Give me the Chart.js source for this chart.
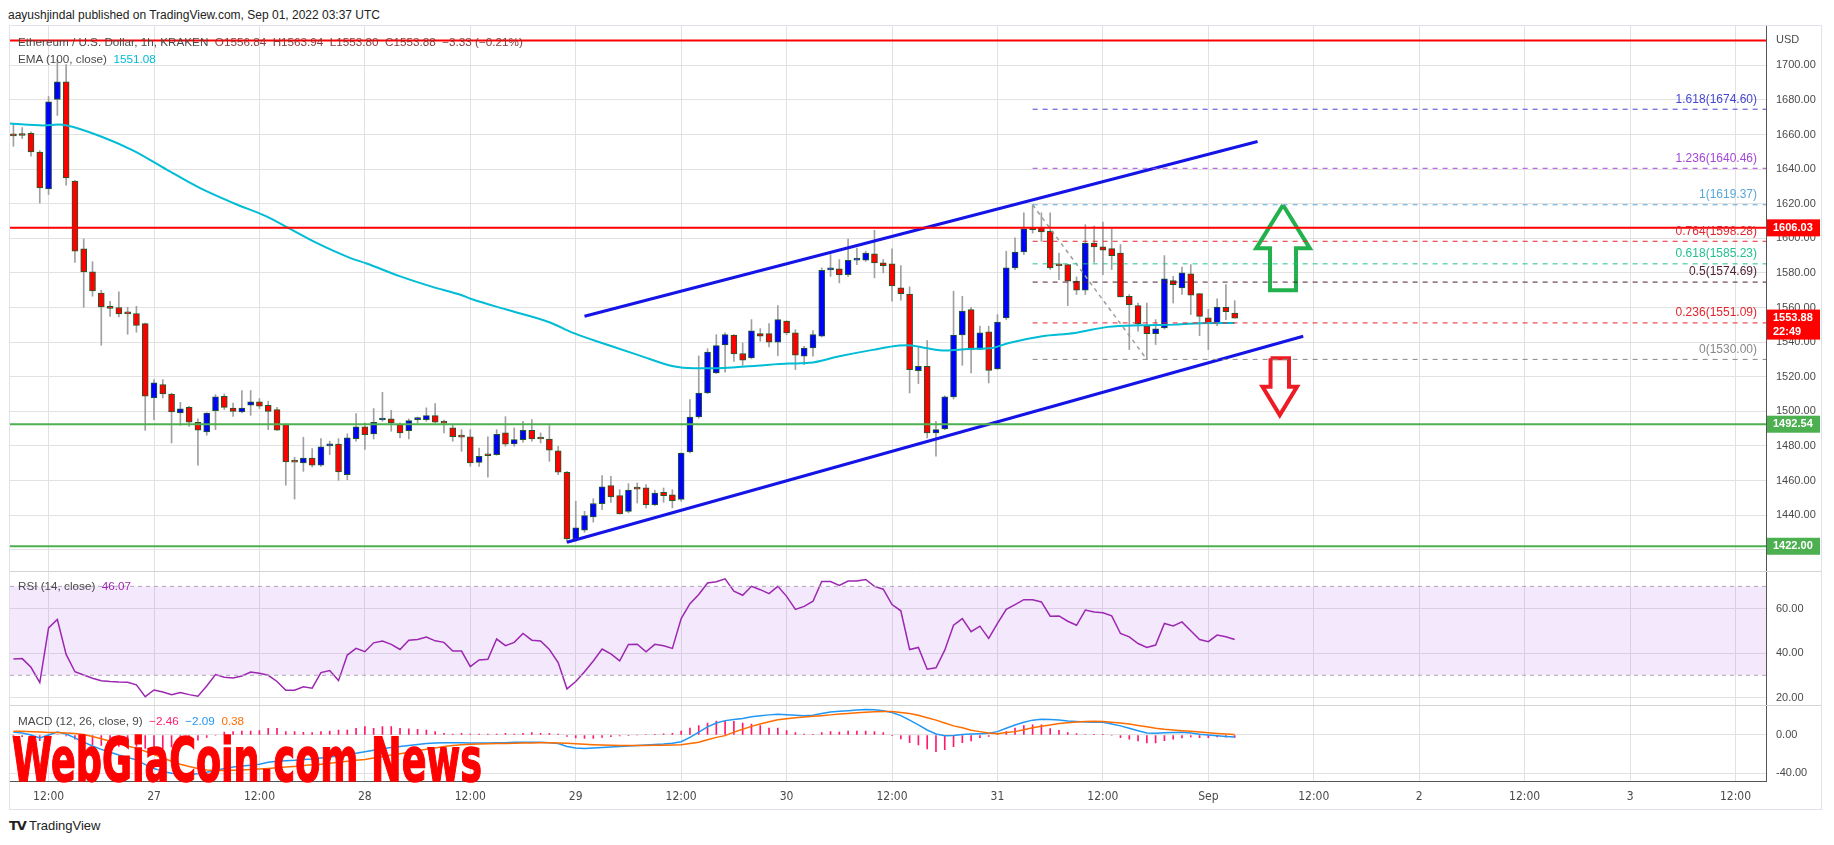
<!DOCTYPE html>
<html>
<head>
<meta charset="utf-8">
<title>ETHUSD 1h</title>
<script src="https://cdn.jsdelivr.net/npm/chart.js@4.4.1/dist/chart.umd.min.js"></script>
<style>
  html, body { margin: 0; padding: 0; background: #fff; }
  body { width: 1834px; height: 845px; position: relative; overflow: hidden;
         font-family: 'Liberation Sans', Arial, sans-serif; color: #4a4a4a; }
  #header { position: absolute; left: 8px; top: 7px; font-size: 12px; line-height: 16px; color: #222; }
  #frame { position: absolute; left: 9px; top: 25px; width: 1813px; height: 785px;
           border: 1px solid #e0e3eb; box-sizing: border-box; }
  #chartBox { position: absolute; left: 10px; top: 26px; width: 1811px; height: 783px; }
  .legend { position: absolute; left: 18px; font-size: 11.7px; line-height: 16px; color: #4a4a4a; white-space: pre; }
  #usd { position: absolute; left: 1776px; top: 32px; font-size: 11px; line-height: 14px; color: #4a4a4a; }
  #watermark { position: absolute; left: 12px; top: 730px; font-family: 'DejaVu Sans', sans-serif; font-weight: bold;
               font-size: 60px; line-height: 60px; color: #ff0000; white-space: nowrap; transform-origin: 0 0;
               -webkit-text-stroke: 1.5px #ff0000; }
  #logo { position: absolute; left: 9px; top: 818px; font-size: 13px; line-height: 16px; color: #222; }
  #logo b { font-family: 'DejaVu Sans', sans-serif; font-weight: 900; letter-spacing: -1px; margin-right: 3px; }
</style>
</head>
<body>
<div id="header">aayushjindal published on TradingView.com, Sep 01, 2022 03:37 UTC</div>
<div id="frame"></div>
<div id="chartBox"><canvas id="chart"></canvas></div>
<div class="legend" style="top:34px">Ethereum / U.S. Dollar, 1h, KRAKEN  <span style="color:#8a3a3a">O1556.84  H1563.94  L1553.80  C1553.88  −3.33 (−0.21%)</span></div>
<div class="legend" style="top:51px">EMA (100, close)  <span style="color:#00bcd4">1551.08</span></div>
<div class="legend" style="top:578px">RSI (14, close)  <span style="color:#9c27b0">46.07</span></div>
<div class="legend" style="top:713px">MACD (12, 26, close, 9)  <span style="color:#ff1a6e">−2.46</span>  <span style="color:#2196f3">−2.09</span>  <span style="color:#ff6d00">0.38</span></div>
<div id="usd">USD</div>
<div id="watermark">WebGiaCoin.com News</div>
<div id="logo"><b>TV</b>TradingView</div>

<script>
// hours are counted from Aug 27 00:00 UTC, one candle per hour
const firstHour = -16;

const opens = [
  1660.3, 1659.5, 1660.7, 1649.9, 1628.5, 1680.2, 1690.4, 1633.0, 1593.9, 1580.6, 1568.4, 1559.8, 1560.0, 1557.4, 1556.5, 1550.7,
  1507.7, 1515.4, 1510.0, 1499.0, 1502.3, 1493.7, 1488.1, 1500.4, 1508.7, 1501.9, 1499.6, 1503.5, 1505.5, 1503.5, 1501.0, 1492.3,
  1470.8, 1470.1, 1473.0, 1468.8, 1480.0, 1481.1, 1463.4, 1484.2,
  1491.0, 1487.0, 1495.0, 1495.6, 1492.3, 1488.8, 1495.2, 1495.2, 1497.5, 1494.0, 1490.4, 1485.3, 1485.2, 1470.5, 1474.5, 1475.0, 1487.5, 1481.1, 1483.6, 1489.0, 1484.1, 1484.0, 1477.1, 1464.8,
  1426.2, 1431.3, 1439.0, 1446.6, 1457.0, 1451.3, 1442.2, 1455.2, 1455.7, 1446.0, 1453.2, 1451.7, 1449.0, 1476.5, 1496.7, 1510.6, 1522.2, 1538.4, 1544.0, 1533.4, 1530.9, 1544.9, 1544.9, 1539.9,
  1552.2, 1545.3, 1531.8, 1536.6, 1543.4, 1581.7, 1582.3, 1579.0, 1587.4, 1587.3, 1591.0, 1585.8, 1585.2, 1571.3, 1567.8, 1523.5, 1526.0, 1487.5, 1489.8, 1508.3, 1544.1, 1558.8, 1535.7, 1545.9,
  1524.5, 1554.0, 1582.9, 1592.1, 1605.4, 1606.0, 1604.0, 1584.3, 1584.8, 1575.2, 1570.0, 1597.3, 1595.0, 1594.0, 1591.5, 1566.5, 1561.1, 1549.2, 1544.9, 1548.2, 1575.5, 1571.3, 1579.4, 1568.0,
  1554.0, 1550.5, 1560.1, 1556.84
];
const highs = [
  1666.0, 1664.0, 1661.5, 1650.7, 1682.0, 1703.3, 1700.4, 1633.5, 1599.6, 1586.5, 1570.0, 1563.6, 1569.0, 1560.1, 1560.7, 1551.0,
  1518.3, 1518.3, 1510.5, 1505.2, 1502.9, 1495.6, 1499.2, 1509.6, 1510.0, 1504.8, 1512.0, 1512.0, 1507.4, 1505.8, 1502.3, 1492.6,
  1473.4, 1485.0, 1478.4, 1484.2, 1482.7, 1484.2, 1487.0, 1498.7,
  1493.3, 1501.6, 1511.0, 1500.6, 1493.3, 1495.6, 1496.7, 1502.0, 1504.4, 1495.0, 1492.3, 1489.4, 1489.4, 1478.8, 1485.2, 1489.4, 1496.9, 1490.4, 1494.2, 1495.2, 1487.5, 1491.7, 1479.8, 1465.3,
  1448.0, 1442.2, 1449.5, 1462.8, 1462.4, 1454.7, 1458.2, 1458.6, 1457.6, 1454.4, 1455.7, 1454.7, 1476.0, 1506.8, 1532.0, 1536.2, 1544.3, 1545.3, 1544.3, 1539.5, 1553.0, 1547.8, 1550.7, 1561.1,
  1552.4, 1547.2, 1537.6, 1546.6, 1582.9, 1590.6, 1587.7, 1599.6, 1594.4, 1592.5, 1604.6, 1587.7, 1593.9, 1584.2, 1571.9, 1537.6, 1540.9, 1494.2, 1509.0, 1569.4, 1566.5, 1560.1, 1549.2, 1549.2,
  1555.9, 1592.5, 1600.2, 1614.7, 1619.37, 1614.7, 1614.7, 1591.5, 1585.0, 1577.7, 1607.9, 1607.0, 1609.3, 1605.4, 1596.4, 1567.5, 1562.6, 1562.6, 1553.0, 1590.0, 1578.0, 1583.4, 1584.8, 1568.0,
  1559.0, 1565.0, 1573.2, 1563.94
];
const lows = [
  1653.2, 1657.6, 1647.4, 1620.4, 1625.3, 1671.0, 1630.7, 1586.1, 1560.1, 1566.5, 1538.2, 1554.9, 1554.5, 1544.5, 1545.7, 1489.0,
  1495.2, 1507.7, 1481.7, 1491.9, 1491.3, 1468.8, 1486.2, 1489.4, 1501.0, 1497.1, 1499.0, 1497.7, 1501.6, 1489.4, 1489.0, 1457.3,
  1449.3, 1465.3, 1467.8, 1468.2, 1475.0, 1460.1, 1460.5, 1482.7,
  1477.9, 1484.0, 1494.2, 1488.5, 1484.6, 1484.0, 1493.3, 1494.2, 1493.3, 1487.5, 1482.7, 1476.9, 1468.2, 1468.2, 1461.9, 1474.6, 1479.8, 1479.8, 1482.1, 1482.7, 1481.7, 1471.1, 1463.4, 1424.3,
  1424.9, 1430.1, 1435.9, 1443.2, 1447.4, 1440.7, 1441.3, 1447.0, 1444.2, 1445.5, 1447.4, 1444.2, 1448.0, 1475.9, 1496.0, 1510.2, 1521.8, 1522.6, 1528.9, 1526.6, 1530.3, 1540.5, 1537.2, 1532.2,
  1544.3, 1524.1, 1527.0, 1531.8, 1543.0, 1578.0, 1574.2, 1578.0, 1584.8, 1586.7, 1577.1, 1580.0, 1563.6, 1564.2, 1510.6, 1516.0, 1484.6, 1474.0, 1489.4, 1507.1, 1526.6, 1522.2, 1535.7, 1516.4,
  1524.1, 1553.0, 1581.9, 1590.6, 1603.0, 1598.3, 1581.9, 1576.1, 1561.1, 1567.5, 1567.5, 1586.1, 1579.0, 1581.9, 1566.1, 1535.7, 1546.3, 1530.0, 1538.6, 1547.6, 1562.6, 1567.5, 1555.9, 1543.7,
  1535.7, 1549.5, 1553.0, 1553.80
];
const closes = [
  1659.2, 1659.4, 1649.9, 1629.1, 1678.8, 1690.4, 1634.9, 1592.5, 1580.6, 1569.6, 1560.3, 1559.5, 1556.3, 1556.3, 1549.7, 1508.7,
  1516.4, 1510.0, 1499.6, 1501.4, 1493.7, 1489.1, 1499.0, 1508.4, 1502.3, 1500.0, 1501.9, 1505.5, 1502.9, 1500.0, 1489.1, 1470.7,
  1470.6, 1473.0, 1468.8, 1479.4, 1481.2, 1465.0, 1484.6, 1491.0,
  1486.5, 1493.7, 1495.4, 1493.3, 1487.5, 1494.6, 1495.4, 1497.5, 1493.7, 1493.2, 1485.4, 1485.1, 1470.2, 1474.0, 1474.3, 1486.7, 1481.0, 1483.6, 1489.0, 1484.0, 1484.0, 1477.5, 1464.8, 1426.2,
  1432.6, 1439.7, 1446.7, 1456.3, 1450.5, 1440.7, 1454.4, 1455.0, 1446.0, 1452.8, 1451.3, 1448.4, 1475.9, 1496.7, 1510.6, 1534.3, 1538.0, 1544.3, 1533.2, 1529.5, 1546.5, 1543.4, 1539.9, 1553.0,
  1545.3, 1532.4, 1536.6, 1544.3, 1581.5, 1582.0, 1578.8, 1587.3, 1587.6, 1591.5, 1585.8, 1584.2, 1572.5, 1568.0, 1524.1, 1526.0, 1487.5, 1489.4, 1508.3, 1544.1, 1558.0, 1535.7, 1545.3, 1523.7,
  1551.5, 1582.9, 1592.1, 1605.4, 1605.0, 1603.7, 1582.9, 1584.1, 1575.2, 1570.0, 1597.3, 1595.0, 1593.1, 1590.0, 1566.1, 1561.7, 1550.7, 1544.9, 1547.6, 1576.5, 1573.2, 1580.0, 1567.1, 1554.9,
  1551.1, 1560.3, 1557.6, 1553.88
];

// EMA(100) read at points along the curve
const emaHours  = [-16.4, -12.6, -10.9, -9.9, -6.1, -2.35, 1.44, 5.2, 9.0, 12.8, 15.5, 18.5, 22.3, 24.2, 27.95, 31.7, 34.8, 36.3, 40.1, 45, 47.7, 51.5, 55.3, 59.1, 61.4, 64.8, 68.6, 72.3, 74.6, 78, 81.8, 84.8, 85.9, 87.8, 90.1, 92.7, 95.4, 97.3, 101.1, 104.8, 108.6, 112.4, 116.2, 120, 123];
const emaValues = [1666.3, 1665.2, 1665.7, 1665.2, 1659.0, 1650.7, 1639.7, 1629.1, 1620.4, 1612.7, 1605.4, 1597.3, 1588.7, 1585.4, 1578.1, 1571.9, 1567.5, 1564.6, 1558.8, 1551.5, 1545.3, 1538.6, 1532.2, 1526.0, 1524.9, 1525.1, 1526.4, 1527.6, 1528.0, 1531.8, 1535.5, 1538.0, 1538.2, 1536.6, 1535.1, 1536.0, 1536.6, 1539.5, 1543.4, 1545.3, 1548.8, 1549.7, 1550.1, 1551.1, 1551.08];

const rsiValues = [
  37.3, 37.5, 33.6, 26.7, 51.3, 55.1, 39.4, 31.6, 30.1, 28.7, 27.5, 27.2, 27.0, 26.9, 25.7, 20.4,
  23.4, 22.5, 21.3, 22.2, 21.3, 20.6, 25.2, 30.3, 29.1, 28.8, 29.7, 31.5, 30.9, 30.0, 27.2, 23.3,
  23.3, 24.8, 24.2, 31.2, 32.1, 27.6, 39.1, 42.1,
  40.6, 44.6, 45.4, 43.9, 41.6, 45.8, 46.1, 47.2, 45.5, 44.8, 40.9, 40.9, 33.9, 36.9, 37.2, 46.3, 43.3, 44.8, 48.8, 45.8, 45.4, 41.6, 35.7, 23.9,
  27.2, 31.6, 36.4, 41.8, 39.6, 36.5, 43.9, 44.0, 40.6, 43.9, 43.3, 42.1, 55.5, 62.2, 66.3, 71.5, 72.1, 73.4, 67.8, 66.0, 70.0, 68.5, 66.7, 70.0,
  65.5, 59.6, 61.0, 63.3, 72.2, 72.2, 70.4, 72.4, 72.4, 73.1, 70.0, 68.7, 61.8, 59.0, 41.6, 42.5, 32.7, 33.4, 41.3, 52.5, 55.5, 49.6, 52.1, 46.6,
  53.3, 59.7, 61.8, 64.0, 64.0, 63.0, 56.6, 56.7, 54.3, 52.5, 59.3, 58.5, 58.1, 56.7, 48.8, 47.3, 44.3, 42.5, 43.6, 53.3, 52.2, 54.0, 50.0, 46.1,
  45.1, 48.1, 47.3, 46.07
];

const macdValues = [
  3, 2, 0, -3, 0, 3, 1, -3, -7.5, -11.5, -15, -18, -21, -23.5, -26, -31,
  -35, -38, -40, -41, -41, -40.5, -39, -37, -35, -33.5, -32.5, -31.5, -30.5, -28.5, -27.5, -27,
  -26.5, -25.5, -25, -24, -23, -22, -20.5, -19,
  -17.5, -16, -14.5, -13, -12, -11, -10, -9, -8.5, -8, -8, -8, -8.5, -8.5, -8.5, -8, -8, -7.5, -7.5, -7.5, -7.5, -8, -9, -12,
  -13.5, -14, -13.5, -13, -12.5, -12, -11.5, -11, -10.5, -10, -9.5, -8.7, -7, -2.5, 3, 8.5, 12.5, 15, 16.2, 17.2, 19, 20.2, 21, 21.6,
  21.2, 20.7, 20, 20.5, 22.5, 24, 24.8, 25.4, 26, 26.5, 26.3, 25.4, 23.5, 20.2, 15.5, 10.5, 5.2, 1, -0.7, -0.5, 0.5, 1, 1.4, 1.7,
  3.5, 7, 10.5, 13.2, 15.5, 16.4, 16.2, 15.6, 14.6, 14, 13.6, 13.4, 13.2, 11.5, 9.5, 7, 4.5, 2, 1.8, 2.4, 2.6, 2.8, 2, 0.8,
  0, -0.8, -1.5, -2.09
];
const signalValues = [
  4, 3.8, 3.5, 3, 2.5, 2.5, 2, 1.5, 0.5, -1.5, -4, -6.5, -9, -11.5, -14, -17,
  -20.5, -24, -27.5, -30.5, -33, -35, -36.5, -37, -37, -36.8, -36.5, -36, -35.5, -35, -34.3, -33.5,
  -32.8, -32, -31.2, -30.5, -29.5, -28.5, -27.5, -26.5,
  -25.5, -24, -22.5, -21, -19.5, -18, -16.5, -15, -13.5, -12, -11, -10.3, -9.8, -9.5, -9.2, -9, -8.8, -8.6, -8.4, -8.3, -8.2, -8.2, -8.3, -8.7,
  -9.2, -9.7, -10.1, -10.5, -10.8, -11, -11.1, -11.1, -11, -10.8, -10.6, -10.4, -10.3, -9, -7.5, -5, -2.5, -0.7, 3, 6, 9, 11.5, 13.9, 16,
  17, 18, 18.8, 19.5, 20.2, 21, 21.8, 22.5, 23.2, 23.8, 24.2, 24.4, 24.4, 23.5, 22.4, 20.5, 18, 15.5, 12.5, 9.5, 7.5, 5, 3.5, 2,
  1.4, 2.5, 3.5, 5.5, 7.5, 9, 10.5, 12, 12.9, 13.5, 14, 14.3, 14, 13.2, 12.4, 11.4, 10, 8.5, 7, 6, 5.3, 4.5, 3.8, 3,
  2.4, 1.6, 1, 0.38
];
const histValues = [
  -1, -1.8, -3.5, -6, -2.5, 0.5, -1, -4.5, -8, -10, -11, -11.5, -12, -12, -12, -14,
  -14.5, -14, -12.5, -10.5, -8, -5.5, -2.5, -0.5, 3, 3.5, 4, 4, 4.5, 7, 7, 3.5,
  3.5, 2.8, 2.5, 3.5, 4.2, 5.2, 5.2, 7,
  8.7, 7, 8.7, 8.7, 7, 6.3, 5.9, 5.2, 3.5, 1.7, 1, 1.7, 1, 1, 1, 1, 1.7, 1, 1.7, 2.4, 1.7, 1.7, 1, -1.5,
  -3, -3.5, -3.5, -2.5, -1.7, -1, -0.4, 0, 0.5, 0.8, 1.1, 1.7, 4.2, 7.3, 9.8, 12.5, 14.6, 14.6, 14.3, 12.5, 11.5, 9.8, 7.3, 7.3,
  4.5, 2.5, 1, 0.8, 2.5, 3.5, 3.1, 4.2, 4.2, 4.2, 3.5, 2.4, -0.7, -4.2, -8, -10.5, -14.6, -17.4, -15.3, -12.2, -8, -6.3, -2.8, -1.4,
  0.7, 3.5, 7.3, 9.8, 10.5, 10.5, 6.6, 4.9, 2.4, 1.4, 0.5, 0.3, 0.3, -0.5, -2.8, -4.5, -6.3, -8.4, -8.4, -5.9, -4.5, -3.1, -2.1, -2.8,
  -2.8, -2.1, -2.4, -2.46
];

const tickHours  = [-12, 0, 12, 24, 36, 48, 60, 72, 84, 96, 108, 120, 132, 144, 156, 168, 180];
const tickLabels = ['12:00', '27', '12:00', '28', '12:00', '29', '12:00', '30', '12:00', '31', '12:00', 'Sep', '12:00', '2', '12:00', '3', '12:00'];
const priceTicks = [1420, 1440, 1460, 1480, 1500, 1520, 1540, 1560, 1580, 1600, 1620, 1640, 1660, 1680, 1700];
const rsiTicks = [20, 40, 60];
const macdTicks = [-40, 0];
const rsiBand = [70, 30];

// drawn levels
const resistanceLevels = [1714.3, 1606.03];
const supportLevels = [1492.54, 1422.00];
const fibRatios = ['1.618', '1.236', '1', '0.764', '0.618', '0.5', '0.236', '0'];
const fibPrices = [1674.60, 1640.46, 1619.37, 1598.28, 1585.23, 1574.69, 1551.09, 1530.00];
const fibStartHour = 100;
const swingHours = [100, 113];
const swingPrices = [1619.37, 1530.00];
const upperChannelHours = [49, 125.6];
const upperChannelPrices = [1554.9, 1655.9];
const lowerChannelHours = [47, 130.8];
const lowerChannelPrices = [1424.3, 1543.4];
const upArrowHours  = [128.5, 131.55, 129.98, 129.98, 127.02, 127.02, 125.45, 128.5];
const upArrowPrices = [1619.2, 1594.2, 1594.2, 1570.0, 1570.0, 1594.2, 1594.2, 1619.2];
const downArrowHours  = [127.08, 129.18, 129.18, 130.09, 128.13, 126.17, 127.08, 127.08];
const downArrowPrices = [1530.6, 1530.6, 1514.2, 1514.2, 1497.8, 1514.2, 1514.2, 1530.6];

const tagPrices = [1606.03, 1553.88, 1492.54, 1422.00];
const tagTexts  = [['1606.03'], ['1553.88', '22:49'], ['1492.54'], ['1422.00']];

// styles
const UP = '#0000ff', DOWN = '#ff0000', EDGE = '#1f5a2a', WICK = '#a0a0a0';
const GRID = '#e2e2e2', AXIS = '#555555', TEXT = '#4a4a4a';
const fibColors = ['#4646d2', '#a447d9', '#5aa7d8', '#e3262e', '#23c08f', '#4d1d33', '#e3262e', '#888888'];
const tagColors = ['#ff0000', '#ff0000', '#4caf50', '#4caf50'];
const X_MIN = -16.39, X_MAX = 183.47;

const hours = opens.map((_, i) => firstHour + i);
const pts = (xs, ys) => xs.map((x, i) => ({ x, y: ys[i] }));

function line(data, color, width, extra) {
  return Object.assign({
    type: 'line', data, borderColor: color, borderWidth: width,
    pointRadius: 0, fill: false, yAxisID: 'y', order: 1
  }, extra);
}

const datasets = [
  {
    type: 'bar', yAxisID: 'y', order: 9, grouped: false, barThickness: 1,
    data: hours.map((h, i) => ({ x: h, y: [lows[i], highs[i]] })),
    backgroundColor: WICK
  },
  {
    type: 'bar', yAxisID: 'y', order: 8, grouped: false, barThickness: 6, minBarLength: 2,
    data: hours.map((h, i) => ({ x: h, y: [opens[i], closes[i]] })),
    backgroundColor: hours.map((_, i) => closes[i] >= opens[i] ? UP : DOWN),
    borderColor: EDGE, borderWidth: 1, borderSkipped: false
  },
  line(pts(emaHours, emaValues), '#00bcd4', 2, { order: 7, cubicInterpolationMode: 'monotone' })
];

resistanceLevels.forEach(v => datasets.push(line(pts([X_MIN, X_MAX], [v, v]), '#ff0000', 2)));
supportLevels.forEach(v => datasets.push(line(pts([X_MIN, X_MAX], [v, v]), '#4caf50', 2)));
fibPrices.forEach((v, i) => datasets.push(line(pts([fibStartHour, X_MAX], [v, v]), fibColors[i], 1, { borderDash: [5, 5] })));
datasets.push(line(pts(swingHours, swingPrices), '#9e9e9e', 1.5, { borderDash: [4, 4] }));
datasets.push(line(pts(upperChannelHours, upperChannelPrices), '#1414e6', 3));
datasets.push(line(pts(lowerChannelHours, lowerChannelPrices), '#1414e6', 3));
datasets.push(line(pts(upArrowHours, upArrowPrices), '#22b14c', 4, { borderJoinStyle: 'miter' }));
datasets.push(line(pts(downArrowHours, downArrowPrices), '#ed1c24', 4, { borderJoinStyle: 'miter' }));

// RSI pane
rsiBand.forEach(v => datasets.push(line(pts([X_MIN, X_MAX], [v, v]), '#b0a8b8', 1, { yAxisID: 'yRsi', borderDash: [4, 4] })));
datasets.push(line(pts(hours, rsiValues), '#9c27b0', 1.5, { yAxisID: 'yRsi' }));

// MACD pane
datasets.push({
  type: 'bar', yAxisID: 'yMacd', order: 5, grouped: false, barThickness: 1,
  data: pts(hours, histValues), backgroundColor: '#ff1a6e'
});
datasets.push(line(pts(hours, signalValues), '#ff6d00', 1.5, { yAxisID: 'yMacd' }));
datasets.push(line(pts(hours, macdValues), '#2196f3', 1.5, { yAxisID: 'yMacd' }));

const fixRightAxis = s => { s.width = 55; s.paddingTop = 0; s.paddingBottom = 0; };
const yAxis = (min, max, ticks, weight, fmt) => ({
  position: 'right', stack: 'panes', stackWeight: weight, min, max,
  grid: { color: GRID, drawTicks: false },
  border: { color: AXIS },
  ticks: { color: TEXT, font: { size: 11 }, padding: 10, autoSkip: false, callback: fmt },
  afterBuildTicks: s => { s.ticks = ticks.map(v => ({ value: v })); },
  afterFit: fixRightAxis
});

const annotations = {
  id: 'annotations',
  beforeDatasetsDraw(chart) {
    const { ctx, chartArea: a } = chart;
    const yr = chart.scales.yRsi;
    const t = yr.getPixelForValue(rsiBand[0]), b = yr.getPixelForValue(rsiBand[1]);
    ctx.save();
    ctx.fillStyle = 'rgba(155, 47, 238, 0.11)';
    ctx.fillRect(a.left, t, a.right - a.left, b - t);
    ctx.restore();
  },
  afterDatasetsDraw(chart) {
    const { ctx, chartArea: a } = chart;
    const y = chart.scales.y;
    ctx.save();
    ctx.font = '12px "Liberation Sans", Arial, sans-serif';
    ctx.textAlign = 'right';
    ctx.textBaseline = 'middle';
    fibRatios.forEach((r, i) => {
      ctx.fillStyle = fibColors[i];
      ctx.fillText(r + '(' + fibPrices[i].toFixed(2) + ')', a.right - 9, y.getPixelForValue(fibPrices[i]) - 10);
    });
    ctx.restore();
  },
  afterDraw(chart) {
    const { ctx, chartArea: a, width } = chart;
    ctx.save();
    // pane separators
    ctx.strokeStyle = '#d4d4d4';
    ctx.lineWidth = 1;
    [chart.scales.yRsi.top, chart.scales.yMacd.top].forEach(t => {
      const yy = Math.round(t) + 0.5;
      ctx.beginPath(); ctx.moveTo(a.left, yy); ctx.lineTo(width, yy); ctx.stroke();
    });
    // price tags on the axis
    const y = chart.scales.y;
    ctx.font = 'bold 11px "Liberation Sans", Arial, sans-serif';
    ctx.textAlign = 'left';
    ctx.textBaseline = 'middle';
    tagPrices.forEach((p, i) => {
      const py = y.getPixelForValue(p);
      const lines = tagTexts[i];
      const h = lines.length === 1 ? 17 : 30;
      ctx.fillStyle = tagColors[i];
      ctx.fillRect(a.right + 1, py - 8.5, width - a.right - 2, h);
      ctx.fillStyle = '#ffffff';
      lines.forEach((txt, k) => ctx.fillText(txt, a.right + 7, py + k * 14));
    });
    ctx.restore();
  }
};

Chart.defaults.font.family = '"Liberation Sans", Arial, sans-serif';

new Chart(document.getElementById('chart'), {
  type: 'line',
  data: { datasets },
  options: {
    responsive: true,
    maintainAspectRatio: false,
    animation: false,
    events: [],
    layout: { padding: 0 },
    plugins: { legend: { display: false }, tooltip: { enabled: false } },
    scales: {
      x: {
        type: 'linear', min: X_MIN, max: X_MAX, offset: false,
        grid: { color: GRID, drawTicks: false, offset: false },
        border: { color: AXIS },
        ticks: {
          color: TEXT, padding: 8, maxRotation: 0, autoSkip: false,
          font: { size: 12, family: '"Liberation Sans Narrow", "DejaVu Sans Condensed", "Liberation Sans", sans-serif' },
          callback: v => tickLabels[tickHours.indexOf(v)]
        },
        afterBuildTicks: s => { s.ticks = tickHours.map(v => ({ value: v })); },
        afterFit: s => { s.height = 27.3; s.paddingLeft = 0; s.paddingRight = 0; }
      },
      y: yAxis(1407.7, 1722.7, priceTicks, 545, v => v === 1420 ? '' : v.toFixed(2)),
      yRsi: yAxis(16.5, 76.9, rsiTicks, 134.3, v => v.toFixed(2)),
      yMacd: yAxis(-48.8, 31.0, macdTicks, 76.4, v => v.toFixed(2))
    }
  },
  plugins: [annotations]
});

// fit the watermark to its width in the picture
const wm = document.getElementById('watermark');
wm.style.transform = 'scaleX(' + (470 / wm.getBoundingClientRect().width) + ')';
</script>
</body>
</html>
